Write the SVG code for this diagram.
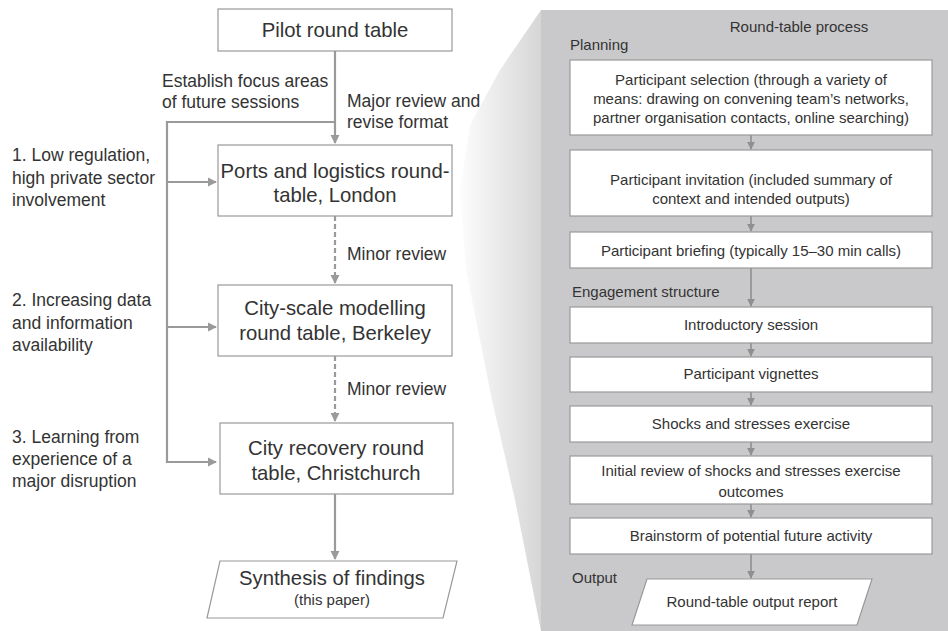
<svg xmlns="http://www.w3.org/2000/svg" width="948" height="631" viewBox="0 0 948 631">
<defs>
<linearGradient id="wedge" x1="455" y1="0" x2="541" y2="0" gradientUnits="userSpaceOnUse">
<stop offset="0" stop-color="#ffffff"/>
<stop offset="1" stop-color="#d6d6d7"/>
</linearGradient>
<marker id="ah" viewBox="0 0 10 10" refX="9" refY="5" markerWidth="4.2" markerHeight="4.2" markerUnits="strokeWidth" orient="auto">
<path d="M0,0 L10,5 L0,10 z" fill="#9a9a9a"/>
</marker>
<marker id="ahs" viewBox="0 0 10 10" refX="9" refY="5" markerWidth="5" markerHeight="5" markerUnits="strokeWidth" orient="auto">
<path d="M0,0 L10,5 L0,10 z" fill="#8f8f8f"/>
</marker>
</defs>
<style>
text{font-family:"Liberation Sans","Open Sans",Arial,sans-serif;fill:#333}
.big{font-size:20.3px;text-anchor:middle}
.lab{font-size:17.5px}
.sm{font-size:15px}
.smc{font-size:15px;text-anchor:middle}
.box{fill:#fff;stroke:#999;stroke-width:1.2}
.con{fill:none;stroke:#9a9a9a;stroke-width:2.2}
.dash{fill:none;stroke:#9a9a9a;stroke-width:2.2;stroke-dasharray:5 3}
.pcon{fill:none;stroke:#8f8f8f;stroke-width:1.6}
</style>
<rect width="948" height="631" fill="#fff"/>
<g id="panel-bg">
<path d="M541,10 L500,70 L470,125 L460,190 L466,270 L492,400 L515,500 L541,631 Z" fill="url(#wedge)"/>
<rect x="541" y="10" width="407" height="621" fill="#c9c9cb"/>
</g>
<g id="connectors">
<path class="con" d="M335,51 V143" marker-end="url(#ah)"/>
<path class="con" d="M335,122 H167 V462 H216" marker-end="url(#ah)"/>
<path class="con" d="M167,182 H216" marker-end="url(#ah)"/>
<path class="con" d="M167,327 H216" marker-end="url(#ah)"/>
<path class="dash" d="M335,216 V283" marker-end="url(#ah)"/>
<path class="dash" d="M335,356 V421" marker-end="url(#ah)"/>
<path class="con" d="M335,494 V559" marker-end="url(#ah)"/>
<path class="pcon" d="M751,135 V149" marker-end="url(#ahs)"/>
<path class="pcon" d="M751,216 V231" marker-end="url(#ahs)"/>
<path class="pcon" d="M751,268 V306" marker-end="url(#ahs)"/>
<path class="pcon" d="M751,343 V356" marker-end="url(#ahs)"/>
<path class="pcon" d="M751,392 V405" marker-end="url(#ahs)"/>
<path class="pcon" d="M751,442 V455" marker-end="url(#ahs)"/>
<path class="pcon" d="M751,504 V517" marker-end="url(#ahs)"/>
<path class="pcon" d="M751,554 V578" marker-end="url(#ahs)"/>
</g>
<g id="edge-labels">
<text class="lab" x="162" y="87">Establish focus areas</text>
<text class="lab" x="162" y="108">of future sessions</text>
<text class="lab" x="347" y="107">Major review and</text>
<text class="lab" x="347" y="128">revise format</text>
<text class="lab" x="347" y="260">Minor review</text>
<text class="lab" x="347" y="395">Minor review</text>
<text class="lab" x="12" y="161">1. Low regulation,</text>
<text class="lab" x="12" y="184">high private sector</text>
<text class="lab" x="12" y="206">involvement</text>
<text class="lab" x="12" y="306">2. Increasing data</text>
<text class="lab" x="12" y="329">and information</text>
<text class="lab" x="12" y="351">availability</text>
<text class="lab" x="12" y="443">3. Learning from</text>
<text class="lab" x="12" y="465">experience of a</text>
<text class="lab" x="12" y="487">major disruption</text>
</g>
<g id="pilot">
<rect class="box" x="218" y="9" width="234" height="42"/>
<text class="big" x="335" y="37">Pilot round table</text>
</g>
<g id="ports">
<rect class="box" x="218" y="145" width="234" height="71"/>
<text class="big" x="335" y="178">Ports and logistics round-</text>
<text class="big" x="335" y="202">table, London</text>
</g>
<g id="cityscale">
<rect class="box" x="218" y="285" width="234" height="71"/>
<text class="big" x="335" y="315">City-scale modelling</text>
<text class="big" x="335" y="340">round table, Berkeley</text>
</g>
<g id="christchurch">
<rect class="box" x="220" y="423" width="233" height="71"/>
<text class="big" x="336" y="455">City recovery round</text>
<text class="big" x="336" y="480">table, Christchurch</text>
</g>
<g id="synthesis">
<path class="box" d="M220,561 H457 L443,618 H207 Z"/>
<text class="big" x="332" y="585">Synthesis of findings</text>
<text x="332" y="605" style="font-size:15px;text-anchor:middle">(this paper)</text>
</g>
<g id="panel-labels">
<text class="smc" x="799" y="32">Round-table process</text>
<text class="sm" x="570" y="50">Planning</text>
<text class="sm" x="572" y="297">Engagement structure</text>
<text class="sm" x="572" y="583">Output</text>
</g>
<g id="selection">
<rect class="box" x="570" y="60" width="362" height="75"/>
<text class="smc" x="751" y="85">Participant selection (through a variety of</text>
<text class="smc" x="751" y="104">means: drawing on convening team’s networks,</text>
<text class="smc" x="751" y="123">partner organisation contacts, online searching)</text>
</g>
<g id="invitation">
<rect class="box" x="570" y="150" width="362" height="66"/>
<text class="smc" x="751" y="185">Participant invitation (included summary of</text>
<text class="smc" x="751" y="204">context and intended outputs)</text>
</g>
<g id="briefing">
<rect class="box" x="570" y="232" width="362" height="36"/>
<text class="smc" x="751" y="256">Participant briefing (typically 15–30 min calls)</text>
</g>
<g id="intro">
<rect class="box" x="570" y="307" width="362" height="36"/>
<text class="smc" x="751" y="330">Introductory session</text>
</g>
<g id="vignettes">
<rect class="box" x="570" y="357" width="362" height="35"/>
<text class="smc" x="751" y="379">Participant vignettes</text>
</g>
<g id="shocks">
<rect class="box" x="570" y="406" width="362" height="36"/>
<text class="smc" x="751" y="429">Shocks and stresses exercise</text>
</g>
<g id="review">
<rect class="box" x="570" y="456" width="362" height="48"/>
<text class="smc" x="751" y="476">Initial review of shocks and stresses exercise</text>
<text class="smc" x="751" y="497">outcomes</text>
</g>
<g id="brainstorm">
<rect class="box" x="570" y="518" width="362" height="36"/>
<text class="smc" x="751" y="541">Brainstorm of potential future activity</text>
</g>
<g id="report">
<path class="box" d="M647,579 H872 L857,625 H632 Z"/>
<text class="smc" x="752" y="607">Round-table output report</text>
</g>
</svg>
